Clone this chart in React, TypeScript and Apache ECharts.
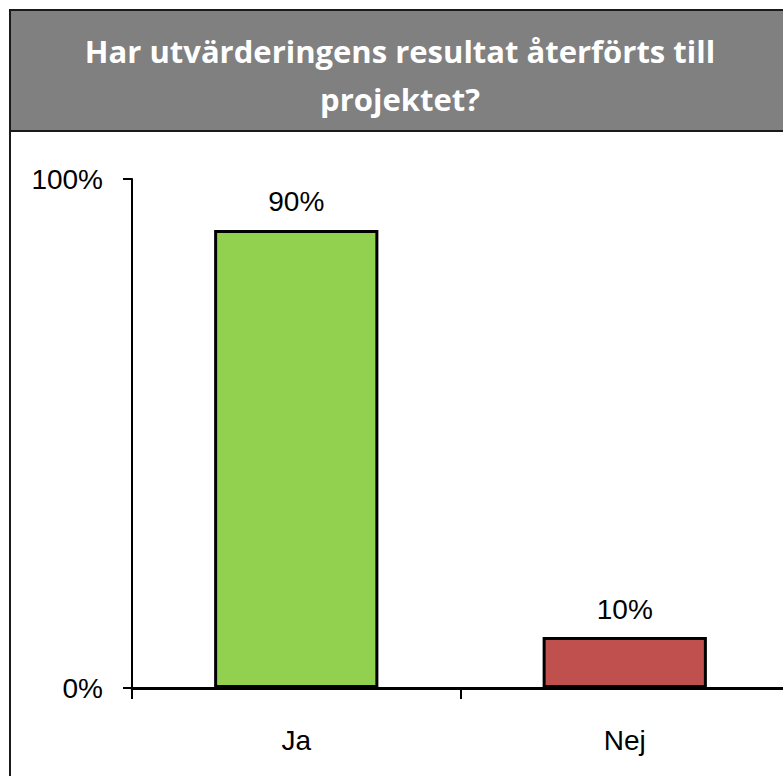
import React, { useEffect, useRef } from "react";
import * as echarts from "echarts";

const titleLines = ["Har utvärderingens resultat återförts till", "projektet?"];
const categories = ["Ja", "Nej"];
const values = [90, 10];
const barColors = ["#92D050", "#C0504D"];
const yTicks = [0, 100];

export default function App() {
  const ref = useRef<HTMLDivElement>(null);
  useEffect(() => {
    const chart = echarts.init(ref.current!, null, { renderer: "svg" });
    chart.setOption({
      animation: false,
      backgroundColor: "#ffffff",
      graphic: [
        {
          type: "rect",
          shape: { x: 10, y: 10, width: 800, height: 800 },
          style: { fill: "none", stroke: "#1a1a1a", lineWidth: 2 },
          z: 0,
        },
        {
          type: "rect",
          shape: { x: 10, y: 10, width: 800, height: 121 },
          style: { fill: "#808080", stroke: "#1a1a1a", lineWidth: 2 },
          z: 1,
        },
        ...titleLines.map((t, i) => ({
          type: "text",
          x: 400,
          y: 51 + i * 48,
          style: {
            text: t,
            fill: "#ffffff",
            font: "bold 31px 'Open Sans', sans-serif",
            textAlign: "center",
            textVerticalAlign: "middle",
          },
          z: 2,
        })),
      ],
      grid: { left: 132, top: 179, bottom: 88, right: 11, containLabel: false },
      xAxis: {
        type: "category",
        data: categories,
        axisLine: { lineStyle: { color: "#000", width: 3 } },
        axisTick: { show: true, length: 11, lineStyle: { color: "#000", width: 2 } },
        axisLabel: {
          margin: 38,
          color: "#000",
          fontFamily: "'Liberation Sans', Arial, sans-serif",
          fontSize: 28,
        },
      },
      yAxis: {
        type: "value",
        min: yTicks[0],
        max: yTicks[1],
        interval: 100,
        splitLine: { show: false },
        axisLine: { show: true, lineStyle: { color: "#000", width: 2 } },
        axisTick: { show: true, length: 9, lineStyle: { color: "#000", width: 2 } },
        axisLabel: {
          margin: 29,
          color: "#000",
          fontFamily: "'Liberation Sans', Arial, sans-serif",
          fontSize: 28,
          formatter: (v: number) => v + "%",
        },
      },
      series: [
        {
          type: "bar",
          barWidth: "50%",
          data: values.map((v, i) => ({
            value: v,
            itemStyle: { color: barColors[i], borderColor: "#000", borderWidth: 3 },
          })),
          label: {
            show: true,
            position: "top",
            distance: 14,
            color: "#000",
            fontFamily: "'Liberation Sans', Arial, sans-serif",
            fontSize: 28,
            formatter: (p: any) => p.value + "%",
          },
        },
      ],
    });
    return () => chart.dispose();
  }, []);
  return (
    <div style={{ position: "fixed", left: 0, top: 0, width: 783, height: 776, overflow: "hidden" }}>
      <div ref={ref} style={{ width: 800, height: 776 }} />
    </div>
  );
}
